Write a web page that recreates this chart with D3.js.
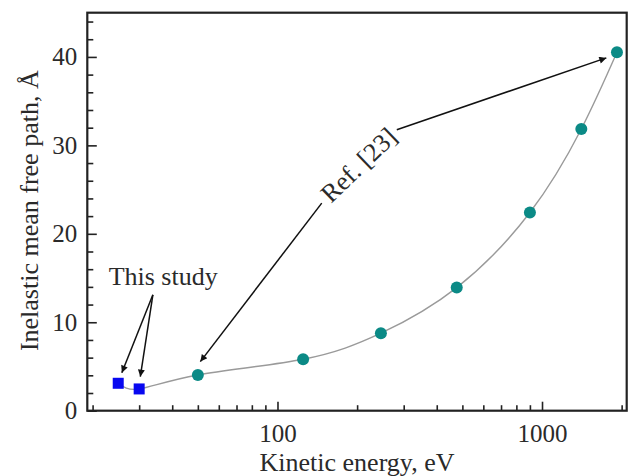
<!DOCTYPE html>
<html>
<head>
<meta charset="utf-8">
<script src="https://cdn.jsdelivr.net/npm/d3@7"></script>
<style>
  body { margin: 0; background: #fff; }
  svg { display: block; }
  svg text { font-family: "Liberation Serif", "DejaVu Serif", serif; }
</style>
</head>
<body>
<div id="chart"></div>
<script>
// ============================================
// Data (kinetic energy in eV, IMFP in Angstrom)
// ============================================

const studyEnergy = [25, 30];
const studyImfp = [3.1, 2.46];

const refEnergy = [50, 125, 246, 476, 900, 1408, 1920];
const refImfp = [4.04, 5.82, 8.76, 13.92, 22.41, 31.85, 40.52];

const xMajorTicks = [100, 1000];
const xMinorTicks = [20, 30, 40, 50, 60, 70, 80, 90, 200, 300, 400, 500, 600, 700, 800, 900, 2000];
const yMajorTicks = [0, 10, 20, 30, 40];
const yMinorTicks = [2, 4, 6, 8, 12, 14, 16, 18, 22, 24, 26, 28, 32, 34, 36, 38, 42, 44];

// annotation anchors, in data units: [fromE, fromY, toE, toY]
const studyArrows = [[33.8, 13.1, 25.8, 4.3], [33.8, 13.1, 30.3, 3.85]];
const refArrows = [[147, 23.47, 51.1, 5.55], [282.5, 31.77, 1750, 39.89]];
const studyLabel = { e: 23.0, y: 14.2, text: 'This study' };
const refLabel = { e: 202.3, y: 27.8, angle: -44, text: 'Ref. [23]' };

// ============================================
// Layout
// ============================================

const width = 628, height = 476;
const margin = { top: 12.7, right: 1.3, bottom: 65.3, left: 87.3 };
const innerW = width - margin.left - margin.right;
const innerH = height - margin.top - margin.bottom;

const colors = {
  frame: '#222',
  text: '#2a2a2a',
  curve: '#9a9a9a',
  study: '#0808f0',
  ref: '#0b8a86'
};

const svg = d3.select('#chart')
  .append('svg')
  .attr('width', width)
  .attr('height', height);

const g = svg.append('g')
  .attr('transform', `translate(${margin.left},${margin.top})`);

const x = d3.scaleLog().domain([19.1, 2090]).range([0, innerW]);
const y = d3.scaleLinear().domain([0, 45]).range([innerH, 0]);

// ============================================
// Axes (ticks point inward)
// ============================================

function styleAxis(axis) {
  axis.select('.domain').remove();
  axis.selectAll('line').attr('stroke', colors.frame).attr('stroke-width', 1.6);
  axis.selectAll('text')
    .attr('fill', colors.text)
    .style('font-family', '"Liberation Serif", serif')
    .style('font-size', '25px');
}

const xMinor = g.append('g')
  .attr('transform', `translate(0,${innerH})`)
  .call(d3.axisBottom(x).tickValues(xMinorTicks).tickSize(-5.5).tickFormat(''));
styleAxis(xMinor);

const xMajor = g.append('g')
  .attr('transform', `translate(0,${innerH})`)
  .call(d3.axisBottom(x).tickValues(xMajorTicks).tickSize(-9).tickPadding(13.5).tickFormat(d3.format('d')));
styleAxis(xMajor);

const yMinor = g.append('g')
  .call(d3.axisLeft(y).tickValues(yMinorTicks).tickSize(-6).tickFormat(''));
styleAxis(yMinor);

const yMajor = g.append('g')
  .call(d3.axisLeft(y).tickValues(yMajorTicks).tickSize(-9.5).tickPadding(10).tickFormat(d3.format('d')));
styleAxis(yMajor);

// frame
g.append('rect')
  .attr('width', innerW)
  .attr('height', innerH)
  .attr('fill', 'none')
  .attr('stroke', colors.frame)
  .attr('stroke-width', 2.2);

// axis titles
svg.append('text')
  .attr('x', margin.left + innerW / 2)
  .attr('y', 471)
  .attr('text-anchor', 'middle')
  .attr('fill', colors.text)
  .style('font-size', '26px')
  .text('Kinetic energy, eV');

svg.append('text')
  .attr('transform', `translate(37.5,${margin.top + innerH / 2 - 1}) rotate(-90)`)
  .attr('text-anchor', 'middle')
  .attr('fill', colors.text)
  .style('font-size', '26px')
  .text('Inelastic mean free path, Å');

// ============================================
// Curve and points
// ============================================

const allPoints = studyEnergy.map((e, i) => [e, studyImfp[i]])
  .concat(refEnergy.map((e, i) => [e, refImfp[i]]));

const line = d3.line()
  .x(d => x(d[0]))
  .y(d => y(d[1]))
  .curve(d3.curveNatural);

g.append('path')
  .datum(allPoints)
  .attr('d', line)
  .attr('fill', 'none')
  .attr('stroke', colors.curve)
  .attr('stroke-width', 1.4);

g.selectAll('.ref-pt')
  .data(refEnergy)
  .join('circle')
  .attr('class', 'ref-pt')
  .attr('cx', d => x(d))
  .attr('cy', (d, i) => y(refImfp[i]))
  .attr('r', 6)
  .attr('fill', colors.ref);

const sq = 11;
g.selectAll('.study-pt')
  .data(studyEnergy)
  .join('rect')
  .attr('class', 'study-pt')
  .attr('x', d => x(d) - sq / 2)
  .attr('y', (d, i) => y(studyImfp[i]) - sq / 2)
  .attr('width', sq)
  .attr('height', sq)
  .attr('fill', colors.study);

// ============================================
// Annotations
// ============================================

svg.append('defs').append('marker')
  .attr('id', 'arrow')
  .attr('viewBox', '0 0 10 10')
  .attr('refX', 10)
  .attr('refY', 5)
  .attr('markerWidth', 9)
  .attr('markerHeight', 7)
  .attr('markerUnits', 'userSpaceOnUse')
  .attr('orient', 'auto')
  .append('path')
  .attr('d', 'M0,0 L10,5 L0,10 z')
  .attr('fill', '#111');

g.selectAll('.arrow')
  .data(studyArrows.concat(refArrows))
  .join('line')
  .attr('class', 'arrow')
  .attr('x1', d => x(d[0]))
  .attr('y1', d => y(d[1]))
  .attr('x2', d => x(d[2]))
  .attr('y2', d => y(d[3]))
  .attr('stroke', '#111')
  .attr('stroke-width', 1.5)
  .attr('marker-end', 'url(#arrow)');

g.append('text')
  .attr('x', x(studyLabel.e))
  .attr('y', y(studyLabel.y))
  .attr('fill', colors.text)
  .style('font-size', '26px')
  .text(studyLabel.text);

g.append('text')
  .attr('transform', `translate(${x(refLabel.e)},${y(refLabel.y)}) rotate(${refLabel.angle})`)
  .attr('text-anchor', 'middle')
  .attr('dy', '0.35em')
  .attr('fill', colors.text)
  .style('font-size', '26px')
  .text(refLabel.text);
</script>
</body>
</html>
